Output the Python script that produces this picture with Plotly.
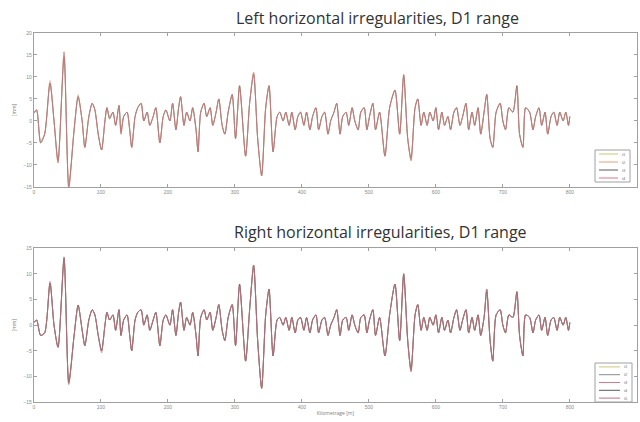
import plotly.graph_objects as go

# distance along track [m]
dist = [0, 4, 10, 16, 24, 30, 36, 45, 52, 60,
        66, 72, 76, 82, 87, 91, 96, 101, 106, 109,
        113, 118, 122, 127, 130, 134, 139, 143, 146, 151,
        155, 160, 164, 169, 173, 178, 182, 188, 193, 197,
        203, 207, 212, 216, 219, 224, 228, 233, 237, 242,
        245, 249, 254, 258, 263, 267, 272, 276, 281, 285,
        290, 296, 301, 307, 316, 322, 328, 334, 340, 346,
        351, 357, 363, 367, 372, 376, 381, 385, 390, 394,
        398, 403, 407, 412, 416, 421, 425, 430, 434, 439,
        443, 448, 452, 457, 461, 466, 470, 475, 479, 484,
        488, 493, 497, 501, 506, 510, 516, 524, 531, 539,
        546, 552, 558, 563, 569, 573, 578, 582, 587, 591,
        596, 600, 604, 609, 613, 618, 622, 627, 631, 636,
        640, 645, 649, 654, 658, 663, 667, 672, 676, 681,
        685, 690, 696, 700, 704, 709, 715, 721, 725, 730,
        734, 740, 745, 749, 754, 758, 763, 767, 772, 776,
        781, 785, 790, 794, 798, 800]

# left rail, horizontal irregularity [mm]
left_base = [1.8, 2.5, -5, -3, 8.6, 0, -9.5, 15.7, -15, -2,
             5.5, 0, -6, 1, 4, 2.5, -3, -6.6, 0, 3,
             0.5, 2, -1, 3.5, -3, 1, 2, -2, -6, 1,
             3, 4, 0, 2, -1, 1, 3, -5, 1, 2.5,
             0, 4, -2, 3, 5.5, -1, 2, 0, 3, -2,
             -7, 2, 4, 1, 3, -1, 2, 5, -1, -3,
             2, 6, -4, 8, -8, 4, 11, -4, -12.5, 3,
             8, -7, 1, 2, 0, 2, -1, 2, -2, 1,
             2, -1, 2, -2, 1, 3, -2, 1, 2, -3,
             0, 2, 4, -3, 1, 2, -1, 3, 0, -2,
             2, 3, -2, 1, 4, -2, 2, -8, 3, 7,
             -3, 10.5, -4, -9, 3, 5, -1, 2, -1, 2,
             0, 3, -2, 2, -1, 1, -2, 2, 3, -1,
             1, 4, -2, 2, -1, 3, -3, 2, 6, -4,
             -6, 2, 4, 0, -2, 3, 2, 8, -3, -6,
             3, 2, -2, 1, 3, -1, 2, -3, 1, 2,
             -1, 2, 0, 2, -1, 1]

# right rail, horizontal irregularity [mm]
right_base = [0.5, 1, -2, -1.5, 8.2, 0, -4.3, 13, -11.3, -2,
              3.9, -1, -4, 1, 3, 2, -2, -5, 0, 2.5,
              1, 2, -1, 3, -2, 1, 2, -2, -5, 1,
              2.5, 3, 0, 2, -1, 1, 2.5, -4, 1, 2,
              0, 3, -2, 2.5, 4.5, -1, 1.5, 0, 2.5, -2,
              -6, 1.5, 3, 1, 2.5, -1, 1.5, 4, -1, -3,
              1.5, 4, -4, 8, -7, 3, 11.7, -3, -12.3, 2,
              7, -6, 1, 1.5, 0, 1.5, -1, 1.5, -1.5, 1,
              1.5, -1, 1.5, -1.5, 1, 2, -1.5, 1, 1.5, -2,
              0, 1.5, 3, -2, 1, 1.5, -1, 2, 0, -1.5,
              1.5, 2, -1.5, 1, 3, -2, 1.5, -6, 2, 8,
              -3, 10, -3, -9, 2, 4, -1, 1.5, -1, 1.5,
              0, 2, -1.5, 1.5, -1, 1, -1.5, 1.5, 3, -1,
              1, 3, -1.5, 1.5, -1, 2, -2, 1.5, 7, -3,
              -7, 2, 3, 0, -1.5, 2, 1.5, 6.5, -2, -6,
              2, 1.5, -1.5, 1, 2, -1, 1.5, -2, 1, 1.5,
              -1, 1.5, 0, 1.5, -1, 0.5]

# per-run readings that differ from the base profile {distance: value}
left_runs = {
    "t1": {},
    "t2": {24: 9.2, 45: 15.0, 52: -14.2, 340: -12.0, 552: 10.0, 66: 6.0},
    "t3": {36: -9.0, 45: 14.6, 328: 10.5, 563: -8.5, 130: -2.5},
    "t4": {52: -15.4, 307: 7.5, 721: 7.5, 113: 1.0, 10: -4.5},
}
right_runs = {
    "t1": {},
    "t2": {45: 12.5, 52: -11.0, 328: 11.2},
    "t3": {24: 8.6, 340: -12.0, 552: 9.6},
    "t4": {45: 13.3, 563: -8.6, 676: 6.6},
    "t5": {52: -11.6, 307: 7.6, 101: -5.4},
}

left_colors = ["#c9c77a", "#e3a27a", "#5a5a5a", "#d9778c"]
right_colors = ["#c9c77a", "#8a8a8a", "#d9778c", "#5a5a5a", "#c07080"]


def run_values(base, overrides):
    return [overrides.get(d, v) for d, v in zip(dist, base)]


fig = go.Figure()

for (name, ov), col in zip(left_runs.items(), left_colors):
    fig.add_trace(go.Scatter(x=dist, y=run_values(left_base, ov), mode="lines",
                             name=name, showlegend=False, opacity=0.8,
                             line=dict(color=col, width=0.8, shape="spline", smoothing=0.7),
                             xaxis="x", yaxis="y"))

for (name, ov), col in zip(right_runs.items(), right_colors):
    fig.add_trace(go.Scatter(x=dist, y=run_values(right_base, ov), mode="lines",
                             name=name, showlegend=False, opacity=0.8,
                             line=dict(color=col, width=0.8, shape="spline", smoothing=0.7),
                             xaxis="x2", yaxis="y2"))

axis_common = dict(
    showline=True, linecolor="#a0a0a0", linewidth=1, mirror="ticks",
    ticks="inside", ticklen=3, tickcolor="#a0a0a0", showgrid=False, zeroline=False,
    tickfont=dict(size=5, color="#8a8a8a", family="Liberation Sans"),
)

shapes = []
annotations = [
    dict(text="Left horizontal irregularities, D1 range", x=377 / 640, y=1 - 18 / 422,
         xref="paper", yref="paper", showarrow=False, xanchor="center", yanchor="middle",
         font=dict(size=16, color="#333", family="Open Sans")),
    dict(text="Right horizontal irregularities, D1 range", x=380 / 640, y=1 - 232 / 422,
         xref="paper", yref="paper", showarrow=False, xanchor="center", yanchor="middle",
         font=dict(size=16, color="#333", family="Open Sans")),
]


def add_legend(names, colors, box):
    x0, y0, x1, y1 = box  # pixel box
    shapes.append(dict(type="rect", xref="paper", yref="paper",
                       x0=x0 / 640, x1=x1 / 640, y0=1 - y1 / 422, y1=1 - y0 / 422,
                       line=dict(color="#a0a0a0", width=1), fillcolor="white", layer="above"))
    step = (y1 - y0) / len(names)
    for i, (n, c) in enumerate(zip(names, colors)):
        yc = y0 + step * (i + 0.5)
        shapes.append(dict(type="line", xref="paper", yref="paper",
                           x0=(x0 + 4) / 640, x1=(x1 - 12) / 640,
                           y0=1 - yc / 422, y1=1 - yc / 422,
                           line=dict(color=c, width=1), layer="above"))
        annotations.append(dict(text=n, x=(x1 - 2) / 640, y=1 - yc / 422,
                                xref="paper", yref="paper", showarrow=False,
                                xanchor="right", yanchor="middle",
                                font=dict(size=4, color="#707070", family="Liberation Sans")))


add_legend(list(left_runs.keys()), left_colors, (595, 150, 630, 182))
add_legend(list(right_runs.keys()), right_colors, (595, 363, 632, 402))

fig.update_layout(
    width=640, height=422,
    margin=dict(l=0, r=0, t=0, b=0, autoexpand=False),
    paper_bgcolor="white", plot_bgcolor="white",
    showlegend=False,
    font=dict(family="Open Sans", color="#333"),
    xaxis=dict(domain=[0.053, 0.995], range=[0, 900], dtick=100, anchor="y", **axis_common),
    yaxis=dict(domain=[0.557, 0.922], range=[-15, 20], dtick=5, anchor="x",
               title=dict(text="[mm]", font=dict(size=5, color="#808080"), standoff=6),
               **axis_common),
    xaxis2=dict(domain=[0.053, 0.995], range=[0, 900], dtick=100, anchor="y2",
                title=dict(text="Kilometrage [m]", font=dict(size=5, color="#808080"), standoff=2),
                **axis_common),
    yaxis2=dict(domain=[0.047, 0.412], range=[-15, 15], dtick=5, anchor="x2",
                title=dict(text="[mm]", font=dict(size=5, color="#808080"), standoff=6),
                **axis_common),
    shapes=shapes,
    annotations=annotations,
)

fig.write_html("out.html", config={"displayModeBar": False},
               post_script="document.body.style.margin='0';")
